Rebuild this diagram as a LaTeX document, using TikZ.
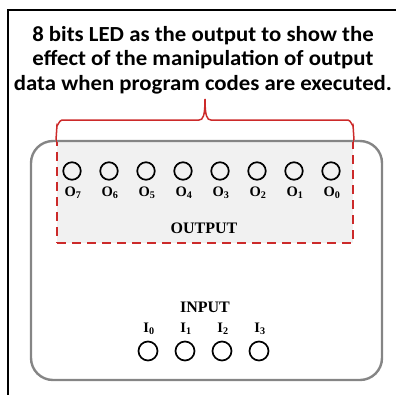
\documentclass[tikz,border=0pt]{standalone}
\usepackage{fontspec}
\setmainfont{Liberation Serif}
\newfontfamily\titlefont{Carlito}
\usetikzlibrary{calc}
\definecolor{redline}{HTML}{CC2A2A}
\definecolor{grayline}{HTML}{858585}
\definecolor{boxfill}{HTML}{F1F1F1}
\tikzset{
  led/.style={circle,draw=black,line width=1.7pt,minimum size=17.5pt,inner sep=0pt},
  oname/.style={font=\fontsize{14.5}{14.5}\selectfont\bfseries,inner sep=0pt},
  sectitle/.style={font=\fontsize{16}{16}\selectfont\bfseries,inner sep=0pt},
}
\begin{document}
\begin{tikzpicture}[x=1pt,y=-1pt]
\useasboundingbox (0,0) rectangle (396,394);
% frame
\draw[line width=2.4pt,line cap=rect] (8,396) -- (8,10) -- (398,10);
% title
\node[inner sep=0pt] (title) at (203,61)
  {\scalebox{1.06}[1]{\titlefont\fontsize{21.5}{24.5}\selectfont\bfseries
   \begin{tabular}{@{}c@{}}8 bits LED as the output to show the\\effect of the manipulation of output\\data when program codes are executed.\end{tabular}}};
% output dashed box
\fill[boxfill] (57,141) rectangle (353,243);
\draw[grayline,line width=2.4pt,rounded corners=22pt] (31,141) rectangle (382,380);
\node[draw=redline,dashed,dash pattern=on 9pt off 6pt,line width=2pt,minimum width=296pt,minimum height=102pt,inner sep=0pt] (outbox) at (205,192) {};
\draw[white,line width=2.6pt] (59,141) -- (351,141);
\draw[grayline,line width=2.4pt] (57,141) -- (353,141);
% brace
\coordinate (tip) at (205,99);
\draw[redline,line width=1.5pt] (outbox.north west) -- (57,125) to[out=-90,in=180] (62,120) -- (199,120)
  .. controls (203,120) and (205,116) .. (tip)
  .. controls (205,116) and (207,120) .. (211,120) -- (348,120) to[out=0,in=-90] (353,125) -- (outbox.north east);
% outputs
\foreach \i in {0,...,7}{
  \pgfmathtruncatemacro{\k}{7-\i}
  \node[led] (o\k) at (72+37*\i,171) {};
  \node[oname] (ol\k) at (73+37*\i,193) {O\textsubscript{\k}};
}
\node[sectitle] (outlabel) at (204,228) {OUTPUT};
% inputs
\node[sectitle] (inlabel) at (205,307) {INPUT};
\foreach \i in {0,...,3}{
  \node[led,minimum size=19pt] (in\i) at (148+37*\i,351) {};
  \node[oname] (il\i) at (149+37*\i,329) {I\textsubscript{\i}};
}
\end{tikzpicture}
\end{document}
